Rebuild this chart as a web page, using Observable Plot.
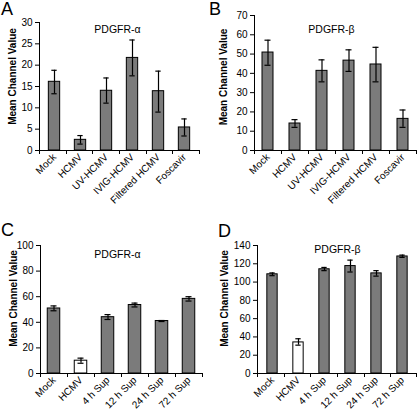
<!DOCTYPE html>
<html><head><meta charset="utf-8">
<script src="https://cdn.jsdelivr.net/npm/d3@7"></script>
<script src="https://cdn.jsdelivr.net/npm/@observablehq/plot@0.6"></script>
<style>
body{margin:0;background:#fff;font-family:"Liberation Sans",Arial,sans-serif;}
#wrap{position:relative;width:417px;height:413px;overflow:hidden;}
.panel{position:absolute;}
.letter{position:absolute;font-size:18px;font-family:"Liberation Sans",Arial,sans-serif;color:#000;line-height:1;}
</style></head>
<body><div id="wrap"></div>
<script>
// ---- data ----
const catsAB = ["Mock", "HCMV", "UV-HCMV", "IVIG-HCMV", "Filtered HCMV", "Foscavir"];
const catsCD = ["Mock", "HCMV", "4 h Sup", "12 h Sup", "24 h Sup", "72 h Sup"];

const valA = [16.1, 2.5, 14.0, 21.7, 13.9, 5.4];
const lowA = [13.3, 1.5, 11.1, 17.5, 9.0, 3.4];
const highA = [18.8, 3.5, 17.0, 25.9, 18.6, 7.4];

const valB = [50.8, 14.0, 41.3, 46.6, 44.6, 16.4];
const lowB = [44.2, 12.0, 35.6, 41.0, 35.6, 12.0];
const highB = [57.2, 16.0, 47.0, 52.2, 53.5, 21.0];

const valC = [50.8, 10.0, 44.0, 53.5, 41.0, 58.3];
const lowC = [49.0, 8.0, 42.2, 52.0, 40.6, 56.6];
const highC = [52.8, 12.0, 46.0, 55.0, 41.4, 60.0];

const valD = [108.5, 34.0, 114.0, 117.5, 109.5, 128.0];
const lowD = [107.0, 31.0, 112.5, 111.0, 106.5, 127.0];
const highD = [110.0, 38.0, 116.0, 124.0, 112.5, 129.5];

const hollowCats = ["HCMV"]; // drawn as open bars in C and D

const titleA = "PDGFR-α", titleB = "PDGFR-β";
const yLabel = "Mean Channel Value";

const ticksA = d3.range(0, 31, 5);
const ticksB = d3.range(0, 71, 10);
const ticksC = d3.range(0, 101, 20);
const ticksD = d3.range(0, 141, 20);

// ---- drawing ----
const GRAY = "#7b7b7b";
const FONT = "Liberation Sans, Arial, sans-serif";

function panel(o) {
  const rows = o.cats.map((c, i) => ({cat: c, v: o.vals[i], lo: o.lows[i], hi: o.highs[i]}));
  const n = o.cats.length;
  const bw = (o.width - o.ml - o.mr) / n;
  const inset = (bw - o.barW) / 2;
  const capInset = (bw - 6) / 2;
  const axisLines = (index, scales, values, dim) => {
    const g = d3.create("svg:g").attr("stroke", "#000").attr("stroke-width", 1).attr("shape-rendering", "crispEdges");
    const x0 = dim.marginLeft, x1 = dim.width - dim.marginRight;
    const y0 = scales.y(0), yt = dim.marginTop;
    g.append("line").attr("x1", x0 + 0.5).attr("x2", x0 + 0.5).attr("y1", yt).attr("y2", y0);
    g.append("line").attr("x1", x0).attr("x2", x1).attr("y1", y0 + 0.5).attr("y2", y0 + 0.5);
    for (let i = 0; i <= n; i++) {
      const x = Math.min(Math.round(x0 + i * (x1 - x0) / n), dim.width - 1) + 0.5;
      g.append("line").attr("x1", x).attr("x2", x).attr("y1", y0).attr("y2", y0 + 4);
    }
    return g.node();
  };
  return Plot.plot({
    width: o.width, height: o.height,
    marginLeft: o.ml, marginRight: o.mr, marginTop: o.mt, marginBottom: o.mb,
    style: {fontFamily: FONT, fontSize: "10px", color: "#000", background: "transparent", overflow: "visible"},
    x: {type: "band", domain: o.cats, padding: 0, label: null},
    y: {domain: [0, o.ymax], label: null},
    marks: [
      Plot.axisY({ticks: o.yticks, tickSize: 4, tickPadding: 3, fontSize: 10, label: null}),
      Plot.axisX({tickSize: 0, tickRotate: -45, tickPadding: 5, fontSize: 10, label: null}),
      Plot.barY(rows, {x: "cat", y: "v", insetLeft: inset, insetRight: inset,
        fill: d => hollowCats.includes(d.cat) && o.hollow ? "#fff" : GRAY, stroke: "#000", strokeWidth: 1}),
      Plot.ruleX(rows, {x: "cat", y1: "lo", y2: "hi", stroke: "#000", strokeWidth: 1.2}),
      Plot.tickY(rows, {x: "cat", y: "lo", insetLeft: capInset, insetRight: capInset, stroke: "#000", strokeWidth: 1.2}),
      Plot.tickY(rows, {x: "cat", y: "hi", insetLeft: capInset, insetRight: capInset, stroke: "#000", strokeWidth: 1.2}),
      axisLines,
      Plot.text([o.title], {frameAnchor: "top", dx: o.tdx || 0, dy: o.tdy, fontSize: 10.5, fill: "#000"}),
      Plot.text([yLabel], {frameAnchor: "left", textAnchor: "middle", dx: o.ldx, dy: o.ldy || 0, rotate: -90, fontSize: 10, fontWeight: "bold", fill: "#000"})
    ]
  });
}

const wrap = document.getElementById("wrap");
function place(node, left, top) {
  const d = document.createElement("div");
  d.className = "panel"; d.style.left = left + "px"; d.style.top = top + "px";
  d.appendChild(node); wrap.appendChild(d);
}
function letter(t, left, top) {
  const d = document.createElement("div");
  d.className = "letter"; d.textContent = t; d.style.left = left + "px"; d.style.top = top + "px";
  wrap.appendChild(d);
}

place(panel({cats: catsAB, vals: valA, lows: lowA, highs: highA, ymax: 30, yticks: ticksA, title: titleA,
  width: 208, height: 208, ml: 39, mr: 9, mt: 22, mb: 58, barW: 12, tdx: -2, tdy: 3, ldx: -27, ldy: -10}), 0, 0);
place(panel({cats: catsAB, vals: valB, lows: lowB, highs: highB, ymax: 70, yticks: ticksB, title: titleB,
  width: 210, height: 208, ml: 47, mr: 1, mt: 15, mb: 58, barW: 11, tdx: -4, tdy: 10, ldx: -31, ldy: -6}), 207, 0);
place(panel({cats: catsCD, vals: valC, lows: lowC, highs: highC, ymax: 100, yticks: ticksC, title: titleA, hollow: true,
  width: 208, height: 208, ml: 40, mr: 6, mt: 40, mb: 40, barW: 12.5, tdx: -4, tdy: 5, ldx: -27, ldy: -11}), 0, 205);
place(panel({cats: catsCD, vals: valD, lows: lowD, highs: highD, ymax: 140, yticks: ticksD, title: titleB, hollow: true,
  width: 210, height: 208, ml: 50, mr: 0, mt: 40, mb: 40, barW: 11, tdx: 0, tdy: 0, ldx: -33, ldy: -11}), 207, 205);

letter("A", 1, 0);
letter("B", 209, 0);
letter("C", 1, 221);
letter("D", 218, 222);
</script></body></html>
